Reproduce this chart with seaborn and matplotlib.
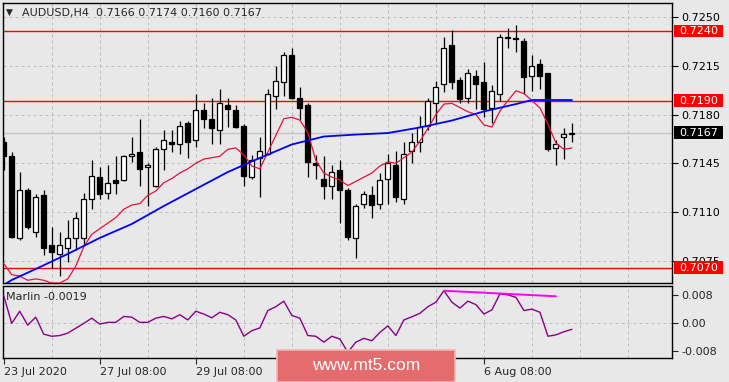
import matplotlib
matplotlib.use("Agg")
import numpy as np
import pandas as pd
import seaborn as sns
import matplotlib.pyplot as plt
import matplotlib.transforms as mtransforms
from matplotlib.patches import Rectangle

# AUDUSD H4 candles, index 0 = leftmost bar
opens = [0.7160, 0.7150, 0.7091, 0.7126, 0.7096, 0.7122, 0.7086, 0.7080, 0.7084, 0.7091,
         0.7091, 0.7119, 0.7135, 0.7124, 0.7133, 0.7133, 0.7150, 0.7153, 0.7142, 0.7129,
         0.7155, 0.7160, 0.7159, 0.7174, 0.7162, 0.7183, 0.7177, 0.7169, 0.7187, 0.7183,
         0.7172, 0.7135, 0.7149, 0.7152, 0.7193, 0.7203, 0.7223, 0.7192, 0.7187, 0.7145,
         0.7134, 0.7129, 0.7140, 0.7126, 0.7091, 0.7116, 0.7122, 0.7116, 0.7134, 0.7144,
         0.7119, 0.7154, 0.7160, 0.7172, 0.7188, 0.7202, 0.7230, 0.7205, 0.7192, 0.7208,
         0.7203, 0.7185, 0.7195, 0.7235, 0.7235, 0.7233, 0.7208, 0.7216, 0.7210, 0.7156,
         0.7164, 0.7166]
highs = [0.7164, 0.7153, 0.7139, 0.7127, 0.7123, 0.7126, 0.7099, 0.7096, 0.7104, 0.7110,
         0.7124, 0.7147, 0.7142, 0.7144, 0.7150, 0.7151, 0.7164, 0.7177, 0.7145, 0.7157,
         0.7169, 0.7169, 0.7175, 0.7175, 0.7195, 0.7188, 0.7192, 0.7198, 0.7192, 0.7187,
         0.7173, 0.7151, 0.7164, 0.7198, 0.7215, 0.7225, 0.7228, 0.7200, 0.7188, 0.7151,
         0.7150, 0.7144, 0.7147, 0.7127, 0.7116, 0.7125, 0.7129, 0.7138, 0.7152, 0.7154,
         0.7160, 0.7167, 0.7179, 0.7192, 0.7204, 0.7236, 0.7241, 0.7207, 0.7213, 0.7212,
         0.7218, 0.7201, 0.7238, 0.7242, 0.7244, 0.7235, 0.7223, 0.7220, 0.7210, 0.7162,
         0.7170, 0.7174]
lows = [0.7140, 0.7091, 0.7090, 0.7098, 0.7092, 0.7079, 0.7070, 0.7064, 0.7074, 0.7083,
        0.7086, 0.7112, 0.7119, 0.7119, 0.7123, 0.7132, 0.7146, 0.7129, 0.7114, 0.7128,
        0.7140, 0.7153, 0.7152, 0.7149, 0.7157, 0.7170, 0.7159, 0.7159, 0.7171, 0.7170,
        0.7129, 0.7134, 0.7121, 0.7151, 0.7184, 0.7193, 0.7191, 0.7176, 0.7135, 0.7134,
        0.7119, 0.7119, 0.7102, 0.7090, 0.7077, 0.7113, 0.7106, 0.7112, 0.7116, 0.7117,
        0.7116, 0.7145, 0.7153, 0.7169, 0.7174, 0.7196, 0.7198, 0.7188, 0.7188, 0.7184,
        0.7178, 0.7174, 0.7190, 0.7228, 0.7225, 0.7195, 0.7197, 0.7198, 0.7154, 0.7144,
        0.7148, 0.7160]
closes = [0.7150, 0.7092, 0.7126, 0.7099, 0.7121, 0.7084, 0.7081, 0.7086, 0.7091, 0.7106,
          0.7119, 0.7136, 0.7123, 0.7131, 0.7131, 0.7150, 0.7152, 0.7141, 0.7144, 0.7155,
          0.7162, 0.7159, 0.7172, 0.7160, 0.7183, 0.7177, 0.7170, 0.7188, 0.7184, 0.7171,
          0.7136, 0.7147, 0.7154, 0.7195, 0.7204, 0.7223, 0.7192, 0.7185, 0.7146, 0.7144,
          0.7129, 0.7139, 0.7126, 0.7092, 0.7114, 0.7123, 0.7115, 0.7133, 0.7145, 0.7121,
          0.7152, 0.7160, 0.7171, 0.7190, 0.7200, 0.7228, 0.7203, 0.7191, 0.7210, 0.7202,
          0.7184, 0.7197, 0.7236, 0.7236, 0.7234, 0.7207, 0.7215, 0.7208, 0.7155, 0.7159,
          0.7166, 0.7167]

# fast MA (red), one value per bar
red_ma = [0.7073, 0.7065, 0.7064, 0.7061, 0.7062, 0.7061, 0.7059, 0.7059, 0.7062, 0.7071,
          0.7085, 0.7094, 0.7098, 0.7102, 0.7106, 0.7112, 0.7115, 0.7116, 0.7122, 0.7125,
          0.7131, 0.7134, 0.7138, 0.7141, 0.7145, 0.7148, 0.7149, 0.7150, 0.7155, 0.7156,
          0.7151, 0.7143, 0.7141, 0.7153, 0.7165, 0.7177, 0.7178, 0.7176, 0.7167, 0.7147,
          0.7138, 0.7135, 0.7133, 0.7129, 0.7132, 0.7135, 0.7138, 0.7143, 0.7146, 0.7145,
          0.7149, 0.7153, 0.7161, 0.7170, 0.7180, 0.71875, 0.7188, 0.7185, 0.7182, 0.7180,
          0.71725, 0.7171, 0.71825, 0.7190, 0.7197, 0.7195, 0.7190, 0.71847, 0.7173, 0.71595,
          0.7155, 0.7156]

# slow MA (blue), read at a few bars
blue_idx = [0, 1, 4, 8, 12, 16, 20, 24, 28, 32, 36, 40, 44, 48, 52, 56, 60, 64, 66, 71]
blue_ma = [0.70576, 0.70612, 0.70691, 0.70799, 0.70914, 0.71014, 0.71143, 0.71265, 0.71387,
           0.71488, 0.71585, 0.71642, 0.71656, 0.71667, 0.71707, 0.71757, 0.71822, 0.71875,
           0.71904, 0.71904]

# Marlin oscillator
marlin = [0.0078, -0.0002, 0.0033, -0.0007, 0.0016, -0.0033, -0.0039, -0.0037, -0.0030, -0.0016,
          -0.0002, 0.0013, -0.0004, 0.0001, 0.0001, 0.0018, 0.0016, 0.0001, 0.0001, 0.0013,
          0.0018, 0.0011, 0.0023, 0.0008, 0.0033, 0.0025, 0.0014, 0.0030, 0.0023, 0.0008,
          -0.0039, -0.0023, -0.0015, 0.0035, 0.0046, 0.0062, 0.0021, 0.0013, -0.0037, -0.0039,
          -0.0056, -0.0039, -0.0047, -0.0085, -0.0056, -0.0045, -0.0052, -0.0028, -0.0009, -0.0037,
          0.0008, 0.0017, 0.0027, 0.0046, 0.0059, 0.0092, 0.0059, 0.0042, 0.0062, 0.0052,
          0.0025, 0.0037, 0.0083, 0.0080, 0.0073, 0.0035, 0.0039, 0.0030, -0.0039, -0.0035,
          -0.0026, -0.0019]
div_idx = [55, 69]
div_val = [0.0092, 0.0076]

levels = [0.7240, 0.7190, 0.7070]
last_price = 0.7167
price_ticks = [0.7250, 0.7215, 0.7180, 0.7145, 0.7110, 0.7075]
osc_ticks = [0.008, 0.0, -0.008]
osc_labels = ["0.008", "0.00", "-0.008"]
# labels at bars 36 and 48 sit under the watermark and are not visible
date_idx = [0, 12, 24, 36, 48, 60]
date_labels = ["23 Jul 2020", "27 Jul 08:00", "29 Jul 08:00", "", "", "6 Aug 08:00"]
header = "AUDUSD,H4  0.7166 0.7174 0.7160 0.7167"

BG = "#E8E8E8"
GRID = "#BDBDBD"
W, H = 729, 382

sns.set_theme(style="white", rc={"axes.facecolor": BG, "figure.facecolor": BG,
                                 "axes.edgecolor": "black", "axes.linewidth": 1.0})
plt.rcParams["font.family"] = ["DejaVu Sans"]


def px_box(l, t, r, b):
    return [l / W, 1 - b / H, (r - l) / W, (b - t) / H]


fig = plt.figure(figsize=(W / 100, H / 100), dpi=100)
ax = fig.add_axes(px_box(2.5, 3, 672, 283.3))
ax2 = fig.add_axes(px_box(2.5, 285.5, 672, 357.5))

xlim = (-0.15, 83.5)
ax.set_xlim(*xlim)
ax.set_ylim(0.705883, 0.726005)
ax2.set_xlim(*xlim)
ax2.set_ylim(-0.010014, 0.010705)

dash = (0, (3, 3))
for a in (ax, ax2):
    for gx in range(6, 84, 6):
        a.axvline(gx, color=GRID, lw=0.72, ls=dash, zorder=0)
for p in price_ticks:
    ax.axhline(p, color=GRID, lw=0.72, ls=dash, zorder=0)
ax2.axhline(0, color=GRID, lw=0.72, ls=dash, zorder=0)

# price lines
ax.axhline(last_price, color="#C4C4C4", lw=1, zorder=1)
for lv in levels:
    ax.axhline(lv, color="#FF0000", lw=1, zorder=2)

# candles
df = pd.DataFrame({"o": opens, "h": highs, "l": lows, "c": closes})
df["i"] = np.arange(len(df))
up = df.c >= df.o
ax.vlines(df.i, df.l, df.h, color="black", lw=0.9, zorder=3)
body = (df.c - df.o).abs().clip(lower=0.00005)
ax.bar(df.i, body, bottom=np.minimum(df.o, df.c), width=0.62,
       color=np.where(up, "white", "black"), edgecolor="black", linewidth=0.9, zorder=4)

# moving averages
sns.lineplot(x=df.i, y=red_ma, ax=ax, color="#E8103C", lw=0.9, zorder=5)
sns.lineplot(x=blue_idx, y=blue_ma, ax=ax, color="#0000FF", lw=1.3, zorder=5)

# oscillator
sns.lineplot(x=df.i, y=marlin, ax=ax2, color="#8B008B", lw=1.0, zorder=3)
sns.lineplot(x=div_idx, y=div_val, ax=ax2, color="#FF00FF", lw=1.4, zorder=4)

# axes / ticks
ax.set_xticks([])
ax.yaxis.tick_right()
ax.set_yticks(price_ticks)
ax.set_yticklabels([f"{p:.4f}" for p in price_ticks])
ax.tick_params(axis="y", length=4, width=0.8, pad=3, labelsize=8, colors="black", right=True)

ax2.yaxis.tick_right()
ax2.set_yticks(osc_ticks)
ax2.set_yticklabels(osc_labels)
ax2.tick_params(axis="y", length=4, width=0.8, pad=3, labelsize=8, right=True)
ax2.set_xticks(date_idx)
ax2.set_xticklabels(date_labels, ha="left")
ax2.tick_params(axis="x", length=4, width=0.8, pad=3, labelsize=8, bottom=True)
for a in (ax, ax2):
    a.set_xlabel("")
    a.set_ylabel("")
    for s in a.spines.values():
        s.set_color("black")
        s.set_linewidth(1.0)

# level labels on the price scale
trans = mtransforms.blended_transform_factory(ax.transAxes, ax.transData)
span = ax.get_ylim()[1] - ax.get_ylim()[0]
hh = 12.5 / 280.3 * span
for lv, fc in [(0.7240, "#FF0000"), (0.7190, "#FF0000"), (0.7070, "#FF0000"), (last_price, "black")]:
    ax.add_patch(Rectangle((1.003, lv - hh / 2), 0.0727, hh, transform=trans,
                           clip_on=False, fc=fc, ec="none", zorder=10))
    ax.text(1.0115, lv, f"{lv:.4f}", transform=trans, color="white", fontsize=8,
            ha="left", va="center", zorder=11, clip_on=False)

# header texts
fig.text(6 / W, 1 - 12.7 / H, "\u25bc", fontsize=6.5, va="center", ha="left")
fig.text(21.5 / W, 1 - 12.7 / H, header, fontsize=8, va="center", ha="left")
fig.text(6.5 / W, 1 - 297.5 / H, "Marlin -0.0019", fontsize=8, va="center", ha="left")

# watermark
fig.patches.append(Rectangle((277 / W, 0), (455 - 277) / W, 32 / H, transform=fig.transFigure,
                             fc="#E46C6C", ec="#F2B5B5", lw=1.2, zorder=20))
fig.text(366 / W, 1 - 366 / H, "www.mt5.com", color="white", fontsize=12.5,
         family=["Liberation Sans", "DejaVu Sans"], ha="center", va="center", zorder=21)

fig.savefig("out.png", dpi=100, facecolor=BG)
